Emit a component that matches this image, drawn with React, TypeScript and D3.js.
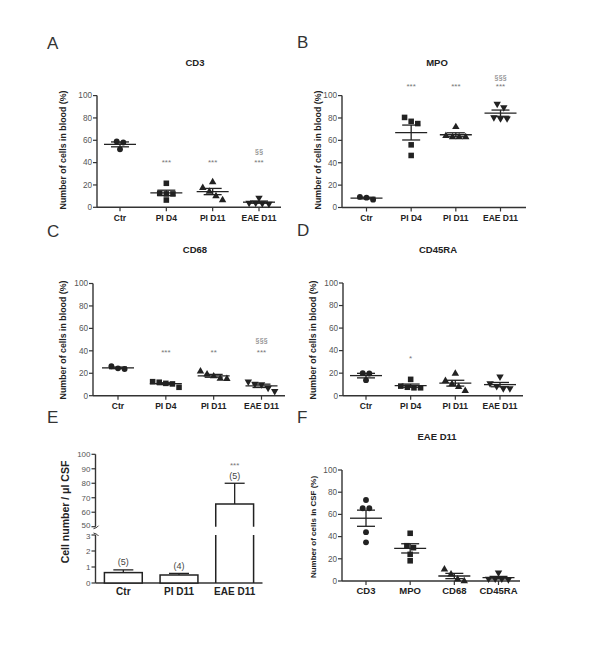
import React from "react";
import * as d3 from "d3";

// ---------- data ----------
const GROUPS = ["Ctr", "PI D4", "PI D11", "EAE D11"];
const CD3 = [[59, 58, 52], [21.5, 12.5, 12, 12, 6.5], [22.5, 17.5, 14, 10, 6.5], [8.5, 4, 3.5, 4, 3]];
const MPO = [[9.5, 7, 8.8], [80.5, 75, 77, 56, 46.5], [72, 63, 63, 63, 64], [92.5, 89.5, 80.5, 79.5, 79.5]];
const CD68 = [[26.2, 24.4, 23.8], [11, 10.5, 7.5, 12, 12.5], [21.8, 17.4, 19.1, 15, 15.3], [12.5, 10.5, 10, 7, 4]];
const CD45RA = [[20, 19.7, 13.8], [14.5, 7.5, 7, 7, 8.5], [19.7, 13.2, 10.3, 7.9, 4.4], [16.8, 10.9, 8.5, 6.5, 6.5]];
const SIG_CD3 = ["", "***", "***", "***"];
const SEC_CD3 = ["", "", "", "§§"];
const SIG_MPO = ["", "***", "***", "***"];
const SEC_MPO = ["", "", "", "§§§"];
const SIG_CD68 = ["", "***", "**", "***"];
const SEC_CD68 = ["", "", "", "§§§"];
const SIG_CD45RA = ["", "*", "", ""];
const SEC_CD45RA = ["", "", "", ""];
const Y_TICKS = [0, 20, 40, 60, 80, 100];

const CSF_MARKERS = ["CD3", "MPO", "CD68", "CD45RA"];
const CSF_EAE = [[73, 65.5, 65.5, 44, 34.8], [43, 31.8, 30, 24, 18.2], [10.5, 6, 1.5, 0], [7.5, 2, 1.5, 2, 2]];

const E_GROUPS = ["Ctr", "PI D11", "EAE D11"];
const E_MEAN = [0.65, 0.5, 65.6];
const E_SEM = [0.17, 0.1, 14.4];
const E_N = ["(5)", "(4)", "(5)"];
const E_SIG = ["", "", "***"];
const E_TICKS_LOW = [0, 1, 2, 3];
const E_TICKS_HIGH = [50, 60, 70, 80, 90, 100];

const SHAPES = ["circle", "square", "triangle", "triangleDown"];

// ---------- styles ----------
const FONT = "Liberation Sans, Arial, sans-serif";
const INK = "#222";
const AXIS = "#333";
const TICKTXT = "#555";
const SIGC = "#777";

function markerPath(shape: string) {
  if (shape === "circle") return d3.symbol(d3.symbolCircle, 27)();
  if (shape === "square") return d3.symbol(d3.symbolSquare, 31)();
  return d3.symbol(d3.symbolTriangle, 24)();
}

function dodge(ys: number[], d: number, thr: number): number[] {
  const idx = ys.map((_, i) => i).sort((a, b) => ys[a] - ys[b]);
  const xs = new Array(ys.length).fill(0);
  let cluster: number[] = [];
  const flush = () => {
    const n = cluster.length;
    cluster.forEach((i, j) => (xs[i] = (j - (n - 1) / 2) * d));
    cluster = [];
  };
  idx.forEach((i, k) => {
    if (k > 0 && Math.abs(ys[i] - ys[idx[k - 1]]) >= thr) flush();
    cluster.push(i);
  });
  flush();
  return xs;
}

type Geo = {
  ax: number; ax1: number; p0: number; p1: number; y0: number; y100: number;
  letter: string; lx: number; ly: number; title: string; tx: number; ty: number;
  ylab: string; ylx: number; yly: number; ylSize: number; xlY: number; xlSize: number;
  sigV: number; secV: number;
};

function Scatter({ g, cats, data, sig, sec }: { g: Geo; cats: string[]; data: number[][]; sig: string[]; sec: string[] }) {
  const x = d3.scalePoint<string>().domain(cats).range([g.p0, g.p1]);
  const y = d3.scaleLinear().domain([0, 100]).range([g.y0, g.y100]);
  return (
    <g>
      <text x={g.lx} y={g.ly} fontSize={17} fill="#333" fontFamily={FONT}>{g.letter}</text>
      <text x={g.tx} y={g.ty} fontSize={9.5} fontWeight="bold" fill={INK} textAnchor="middle" fontFamily={FONT}>{g.title}</text>
      <text transform={`translate(${g.ylx},${g.yly}) rotate(-90)`} fontSize={g.ylSize} fontWeight="bold" fill={INK}
        textAnchor="middle" dy="0.35em" fontFamily={FONT}>{g.ylab}</text>
      {/* y axis */}
      <line x1={g.ax} x2={g.ax} y1={y(0)} y2={y(100)} stroke={AXIS} strokeWidth={1.4} />
      {Y_TICKS.map((t) => (
        <g key={t}>
          <line x1={g.ax - 4} x2={g.ax} y1={y(t)} y2={y(t)} stroke={AXIS} strokeWidth={1.2} />
          <text x={g.ax - 5} y={y(t)} dy="0.35em" textAnchor="end" fontSize={8.2} fill={TICKTXT} fontFamily={FONT}>{t}</text>
        </g>
      ))}
      {/* x axis */}
      <line x1={g.ax} x2={g.ax1} y1={g.y0} y2={g.y0} stroke={AXIS} strokeWidth={1.4} />
      {cats.map((c) => (
        <g key={c}>
          <line x1={x(c)} x2={x(c)} y1={g.y0} y2={g.y0 + 4} stroke={AXIS} strokeWidth={1.2} />
          <text x={x(c)} y={g.xlY} textAnchor="middle" fontSize={g.xlSize} fontWeight="bold" fill={INK} fontFamily={FONT}>{c}</text>
        </g>
      ))}
      {cats.map((c, i) => {
        const vals = data[i];
        const cx = x(c) as number;
        const m = d3.mean(vals) as number;
        const sd = d3.deviation(vals) as number;
        const se = sd / Math.sqrt(vals.length);
        const ys = vals.map((v) => y(v));
        const xs = dodge(ys, 6.6, 5);
        const shape = SHAPES[i];
        const p = markerPath(shape);
        return (
          <g key={c}>
            {vals.map((v, j) => (
              <path key={j} d={p as string}
                transform={`translate(${cx + xs[j]},${ys[j]})${shape === "triangleDown" ? " rotate(180)" : ""}`}
                fill={INK} />
            ))}
            <line x1={cx - 16} x2={cx + 16} y1={y(m)} y2={y(m)} stroke={INK} strokeWidth={1.3} />
            <line x1={cx} x2={cx} y1={y(m - se)} y2={y(m + se)} stroke={INK} strokeWidth={1.3} />
            <line x1={cx - 9} x2={cx + 9} y1={y(m + se)} y2={y(m + se)} stroke={INK} strokeWidth={1.3} />
            <line x1={cx - 9} x2={cx + 9} y1={y(m - se)} y2={y(m - se)} stroke={INK} strokeWidth={1.3} />
            {sig[i] && <text x={cx} y={y(g.sigV) + 4.5} textAnchor="middle" fontSize={8} fill={SIGC} fontFamily={FONT}>{sig[i]}</text>}
            {sec[i] && <text x={cx} y={y(g.secV) + 2.5} textAnchor="middle" fontSize={7.5} fill={SIGC} fontFamily={FONT}>{sec[i]}</text>}
          </g>
        );
      })}
    </g>
  );
}

function BarPanel() {
  const ax = 95.5, ax1 = 262.5;
  const x = d3.scaleBand<string>().domain(E_GROUPS).range([ax, ax1]).paddingInner(0.32).paddingOuter(0.16);
  const lo = d3.scaleLinear().domain([0, 3]).range([583, 535]);
  const hi = d3.scaleLinear().domain([50, 100]).range([526.7, 454.3]);
  const y = (v: number) => (v <= 3 ? lo(v) : hi(v));
  const gapTop = hi(50), gapBot = lo(3);
  return (
    <g>
      <text x={47} y={423} fontSize={17} fill="#333" fontFamily={FONT}>E</text>
      <text transform={`translate(65,512) rotate(-90)`} fontSize={10.5} fontWeight="bold" fill={INK}
        textAnchor="middle" dy="0.35em" fontFamily={FONT}>Cell number / μl CSF</text>
      {/* y axis with break */}
      <line x1={ax} x2={ax} y1={lo(0)} y2={gapBot} stroke={AXIS} strokeWidth={1.4} />
      <line x1={ax} x2={ax} y1={gapTop} y2={hi(100)} stroke={AXIS} strokeWidth={1.4} />
      <path d={`M${ax - 2},${gapTop + 2} Q${ax + 2},${gapTop + 1} ${ax + 3},${gapTop - 1}`} fill="none" stroke={AXIS} strokeWidth={1} />
      <path d={`M${ax - 2},${gapBot - 2} Q${ax + 2},${gapBot - 1} ${ax + 3},${gapBot + 1}`} fill="none" stroke={AXIS} strokeWidth={1} />
      {E_TICKS_LOW.map((t) => (
        <g key={"l" + t}>
          <line x1={ax - 4} x2={ax} y1={lo(t)} y2={lo(t)} stroke={AXIS} strokeWidth={1.2} />
          <text x={ax - 5} y={lo(t) + (t === 3 ? 1 : 0)} dy="0.35em" textAnchor="end" fontSize={8} fill={TICKTXT} fontFamily={FONT}>{t}</text>
        </g>
      ))}
      {E_TICKS_HIGH.map((t) => (
        <g key={"h" + t}>
          <line x1={ax - 4} x2={ax} y1={hi(t)} y2={hi(t)} stroke={AXIS} strokeWidth={1.2} />
          <text x={ax - 5} y={hi(t) - (t === 50 ? 1.5 : 0)} dy="0.35em" textAnchor="end" fontSize={8} fill={TICKTXT} fontFamily={FONT}>{t}</text>
        </g>
      ))}
      <line x1={ax} x2={ax1} y1={lo(0)} y2={lo(0)} stroke={AXIS} strokeWidth={1.4} />
      {E_GROUPS.map((c, i) => {
        const bx = x(c) as number;
        const bw = x.bandwidth();
        const cx = bx + bw / 2;
        const top = y(E_MEAN[i]);
        const errTop = y(E_MEAN[i] + E_SEM[i]);
        const broken = E_MEAN[i] > 3;
        return (
          <g key={c}>
            {broken ? (
              <path d={`M${bx},${lo(0)} V${gapBot} M${bx},${gapTop} V${top} H${bx + bw} V${gapTop} M${bx + bw},${gapBot} V${lo(0)}`}
                fill="none" stroke={INK} strokeWidth={1.5} />
            ) : (
              <rect x={bx} y={top} width={bw} height={lo(0) - top} fill="white" stroke={INK} strokeWidth={1.5} />
            )}
            <line x1={cx} x2={cx} y1={top} y2={errTop} stroke={INK} strokeWidth={1.3} />
            <line x1={cx - 10} x2={cx + 10} y1={errTop} y2={errTop} stroke={INK} strokeWidth={1.3} />
            <text x={cx} y={errTop - 4.5} textAnchor="middle" fontSize={9} fill="#444" fontFamily={FONT}>{E_N[i]}</text>
            {E_SIG[i] && <text x={cx} y={errTop - 15} textAnchor="middle" fontSize={8} fill={SIGC} fontFamily={FONT}>{E_SIG[i]}</text>}
            <text x={cx} y={595} textAnchor="middle" fontSize={10} fontWeight="bold" fill={INK} fontFamily={FONT}>{c}</text>
          </g>
        );
      })}
    </g>
  );
}

const GEO_A: Geo = { ax: 97, ax1: 281, p0: 120, p1: 259, y0: 207.3, y100: 95.6, letter: "A", lx: 47, ly: 49, title: "CD3", tx: 195, ty: 66, ylab: "Number of cells in blood (%)", ylx: 63, yly: 150, ylSize: 8.8, xlY: 221, xlSize: 8.5, sigV: 41.7, secV: 50.4 };
const GEO_B: Geo = { ax: 342, ax1: 526, p0: 366.5, p1: 500.5, y0: 207.5, y100: 95.6, letter: "B", lx: 297, ly: 48, title: "MPO", tx: 437, ty: 66, ylab: "Number of cells in blood (%)", ylx: 318, yly: 150, ylSize: 8.8, xlY: 221, xlSize: 8.5, sigV: 109.5, secV: 116 };
const GEO_C: Geo = { ax: 93, ax1: 285, p0: 118, p1: 261.5, y0: 395.7, y100: 283.5, letter: "C", lx: 47, ly: 237, title: "CD68", tx: 195, ty: 253, ylab: "Number of cells in blood (%)", ylx: 63, yly: 340, ylSize: 8.8, xlY: 409, xlSize: 8.5, sigV: 40, secV: 49 };
const GEO_D: Geo = { ax: 343, ax1: 523, p0: 366, p1: 500, y0: 395.7, y100: 283, letter: "D", lx: 297, ly: 236, title: "CD45RA", tx: 438, ty: 253, ylab: "Number of cells in blood (%)", ylx: 313, yly: 340, ylSize: 8.8, xlY: 409, xlSize: 8.5, sigV: 35, secV: 45 };
const GEO_F: Geo = { ax: 342, ax1: 520, p0: 366, p1: 498.5, y0: 581, y100: 470, letter: "F", lx: 297, ly: 423, title: "EAE D11", tx: 437, ty: 440, ylab: "Number of cells in CSF (%)", ylx: 313, yly: 527, ylSize: 8, xlY: 594, xlSize: 9.5, sigV: 0, secV: 0 };

export default function App() {
  return (
    <svg width={600} height={654} style={{ position: "absolute", left: 0, top: 0, background: "white" }}>
      <rect width={600} height={654} fill="white" />
      <Scatter g={GEO_A} cats={GROUPS} data={CD3} sig={SIG_CD3} sec={SEC_CD3} />
      <Scatter g={GEO_B} cats={GROUPS} data={MPO} sig={SIG_MPO} sec={SEC_MPO} />
      <Scatter g={GEO_C} cats={GROUPS} data={CD68} sig={SIG_CD68} sec={SEC_CD68} />
      <Scatter g={GEO_D} cats={GROUPS} data={CD45RA} sig={SIG_CD45RA} sec={SEC_CD45RA} />
      <BarPanel />
      <Scatter g={GEO_F} cats={CSF_MARKERS} data={CSF_EAE} sig={["", "", "", ""]} sec={["", "", "", ""]} />
    </svg>
  );
}
